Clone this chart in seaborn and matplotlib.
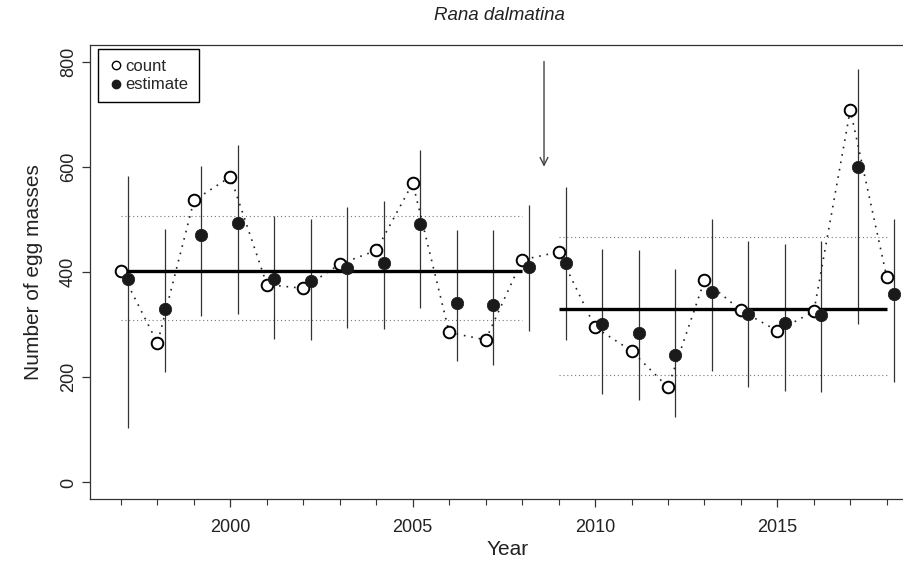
import numpy as np
import pandas as pd
import matplotlib
matplotlib.use('Agg')
import matplotlib.pyplot as plt
from matplotlib.lines import Line2D
import seaborn as sns

# values
years = list(range(1997, 2019))
counts = [402, 265, 536, 581, 376, 369, 415, 441, 569, 285, 271, 423,
          438, 295, 250, 181, 384, 327, 288, 325, 708, 390]
estimates = [386, 329, 471, 494, 387, 383, 408, 418, 492, 342, 338, 409,
             418, 301, 284, 242, 362, 320, 304, 318, 600, 358]
est_upper = [583, 482, 602, 641, 507, 501, 523, 534, 632, 479, 480, 527,
             561, 443, 441, 405, 501, 458, 454, 458, 786, 501]
est_lower = [103, 209, 317, 320, 272, 271, 293, 291, 332, 231, 224, 288,
             271, 168, 157, 125, 212, 182, 174, 172, 302, 190]

# period means and their intervals (before / after the change)
periods = [(1997, 2008), (2009, 2018)]
period_mean = [401, 329]
period_upper = [506, 467]
period_lower = [308, 205]

# arrow marking the change
change_year = 2008.6
arrow_from, arrow_to = 800, 600

df = pd.DataFrame({'year': years, 'count': counts, 'estimate': estimates,
                   'upper': est_upper, 'lower': est_lower})
df['year_est'] = df['year'] + 0.2

sns.set_style('ticks')
plt.rcParams['font.family'] = ['Liberation Sans', 'DejaVu Sans']

fig = plt.figure(figsize=(9.04, 5.65), dpi=100)
ax = fig.add_axes([0.0996, 0.1163, 0.9237, 0.8046])

# error bars of the estimates
ax.vlines(df['year_est'], df['lower'], df['upper'], color='#333333', lw=0.9, zorder=2)

# interval lines and means of each period
for (a, b), m, hi, lo in zip(periods, period_mean, period_upper, period_lower):
    ax.hlines([hi, lo], a, b, color='#777777', lw=0.8, linestyles=(0, (1, 2.5)), zorder=1)
    ax.hlines(m, a, b, color='black', lw=2.4, zorder=3)

# dotted line through the counts
sns.lineplot(data=df, x='year', y='count', ax=ax, color='#222222', lw=1.2,
             linestyle=(0, (1, 3.5)), zorder=2, legend=False)

sns.scatterplot(data=df, x='year', y='count', ax=ax, s=70, facecolor='white',
                edgecolor='black', linewidth=1.4, zorder=4, legend=False)
sns.scatterplot(data=df, x='year_est', y='estimate', ax=ax, s=80, color='#1a1a1a',
                edgecolor='#1a1a1a', linewidth=0.5, zorder=5, legend=False)

ax.annotate('', xy=(change_year, arrow_to), xytext=(change_year, arrow_from),
            arrowprops=dict(arrowstyle='->', color='#444444', lw=1.0, mutation_scale=14,
                            shrinkA=0, shrinkB=0))

ax.set_xlim(1996.15, 2019.05)
ax.set_ylim(-32, 832)
ax.set_xticks([2000, 2005, 2010, 2015])
ax.set_xticks(years, minor=True)
ax.set_yticks([0, 200, 400, 600, 800])
ax.tick_params(axis='both', which='major', direction='out', length=6, width=0.9,
               labelsize=13, color='#333333', labelcolor='#222222')
ax.tick_params(axis='x', which='minor', direction='out', length=4, width=0.8, color='#333333')
ax.tick_params(axis='x', pad=8)
for lab in ax.get_yticklabels():
    lab.set_rotation(90)
    lab.set_va('center')
for sp in ax.spines.values():
    sp.set_color('#333333')
    sp.set_linewidth(0.9)

ax.set_xlabel('Year', fontsize=15, labelpad=3, color='#222222')
ax.set_ylabel('Number of egg masses', fontsize=15, labelpad=12, color='#222222')
fig.text(0.553, 0.973, 'Rana dalmatina', fontsize=13.5, style='italic',
         ha='center', va='center', color='#222222')

handles = [Line2D([], [], marker='o', ls='', markersize=6, markerfacecolor='white',
                  markeredgecolor='black', markeredgewidth=1.0),
           Line2D([], [], marker='o', ls='', markersize=6, color='#1a1a1a')]
ax.legend(handles, ['count', 'estimate'], loc='upper left',
          bbox_to_anchor=(0.0096, 0.9905), fontsize=12, frameon=True, fancybox=False,
          edgecolor='black', framealpha=1, borderpad=0.6, handletextpad=0.15,
          handlelength=0.9, labelspacing=0.2, borderaxespad=0)

fig.savefig('out.png', dpi=100)
